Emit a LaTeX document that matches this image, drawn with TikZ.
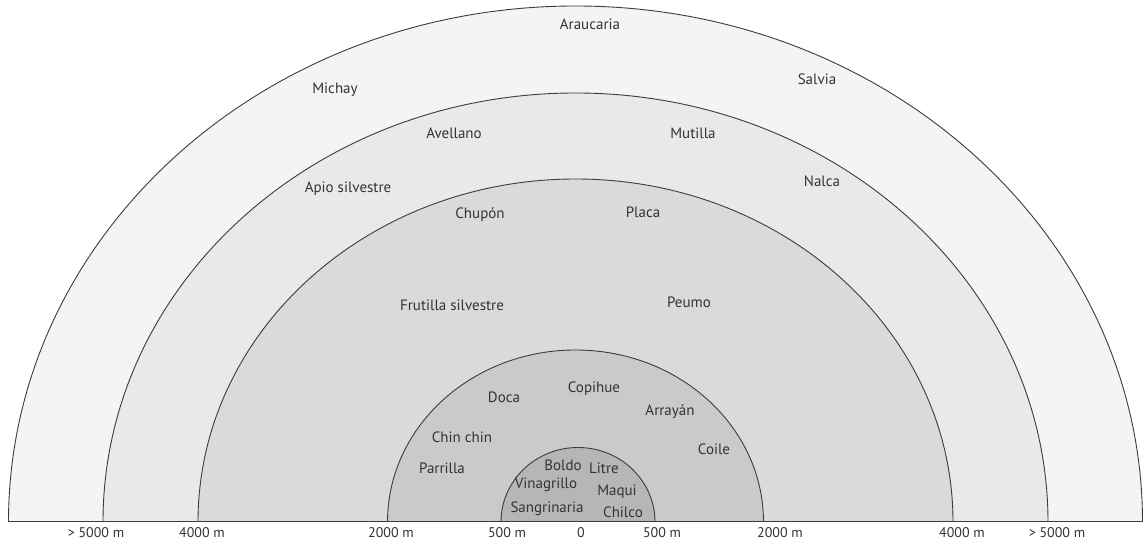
\documentclass[tikz,border=0pt]{standalone}
\usepackage{fontspec}
\setmainfont{PT Sans}
\definecolor{zoneA}{RGB}{244,244,244}
\definecolor{zoneB}{RGB}{233,233,233}
\definecolor{zoneC}{RGB}{218,218,218}
\definecolor{zoneD}{RGB}{202,202,202}
\definecolor{zoneE}{RGB}{182,182,182}
\definecolor{edge}{RGB}{60,60,60}
\usetikzlibrary{positioning, calc}

\begin{document}
\begin{tikzpicture}[x=1pt, y=1pt,
  plant/.style={font=\fontsize{15}{18}\selectfont, text=black!80, inner sep=0pt, text height=11pt, text depth=0pt},
  dist/.style={font=\fontsize{14}{16}\selectfont, text=black!80, inner sep=0pt, text height=10pt, text depth=0pt},
  zone/.style={draw=edge, line width=0.9pt}]
  \useasboundingbox (0,0) rectangle (1144,548);
  \fill[white] (0,0) rectangle (1144,548);

  % > 5000 m zone
  \draw[zone, fill=zoneA] (8.5,26) arc[start angle=180, end angle=0, x radius=567, y radius=516];
  % 4000 m zone
  \draw[zone, fill=zoneB] (103,26) arc[start angle=180, end angle=0, x radius=472.5, y radius=429];
  % 2000 m zone
  \draw[zone, fill=zoneC] (198,26) arc[start angle=180, end angle=0, x radius=377.5, y radius=343];
  % 500 m zone
  \draw[zone, fill=zoneD] (387.5,26) arc[start angle=180, end angle=0, x radius=188, y radius=172];
  % 0 m zone
  \draw[zone, fill=zoneE] (501,26) arc[start angle=180, end angle=0, x radius=77, y radius=74.5];

  % Ground line
  \draw[edge, line width=1pt] (8.5,26) -- (1142.5,26);

  % Plants
  \node[plant] (araucaria) at (590,524) {Araucaria};
  \node[plant] (michay) at (335,460) {Michay};
  \node[plant] (salvia) at (817,469) {Salvia};
  \node[plant] (avellano) at (454,415) {Avellano};
  \node[plant] (mutilla) at (693,415) {Mutilla};
  \node[plant] (apio) at (348,361) {Apio silvestre};
  \node[plant] (nalca) at (822,367) {Nalca};
  \node[plant] (chupon) at (480,335) {Chupón};
  \node[plant] (placa) at (643,336) {Placa};
  \node[plant] (frutilla) at (452,243) {Frutilla silvestre};
  \node[plant] (peumo) at (689,246) {Peumo};
  \node[plant] (copihue) at (594,161) {Copihue};
  \node[plant] (doca) at (504,151) {Doca};
  \node[plant] (arrayan) at (670,138) {Arrayán};
  \node[plant] (chinchin) at (462,111) {Chin chin};
  \node[plant] (coile) at (714,99) {Coile};
  \node[plant] (parrilla) at (442,80) {Parrilla};
  \node[plant] (boldo) at (563,83) {Boldo};
  \node[plant] (litre) at (604,80) {Litre};
  \node[plant] (vinagrillo) at (546,65) {Vinagrillo};
  \node[plant] (maqui) at (617,58) {Maqui};
  \node[plant] (sangrinaria) at (547,41) {Sangrinaria};
  \node[plant] (chilco) at (623,36) {Chilco};

  % Distances
  \node[dist] (d5000l) at (96,15) {> 5000 m};
  \node[dist] (d4000l) at (202,15) {4000 m};
  \node[dist] (d2000l) at (391,15) {2000 m};
  \node[dist] (d500l) at (507,15) {500 m};
  \node[dist] (d0) at (581,15) {0};
  \node[dist] (d500r) at (662,15) {500 m};
  \node[dist] (d2000r) at (780,15) {2000 m};
  \node[dist] (d4000r) at (962,15) {4000 m};
  \node[dist] (d5000r) at (1057,15) {> 5000 m};
\end{tikzpicture}
\end{document}
